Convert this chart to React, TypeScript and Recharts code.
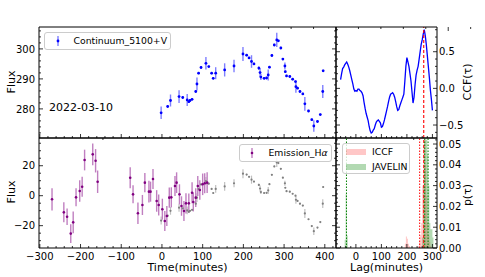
import React from 'react';
import { ComposedChart, Scatter, ErrorBar, XAxis, YAxis, Line, Area, ReferenceLine } from 'recharts';

const FONT = '"DejaVu Sans", Verdana, sans-serif';

// ---------- continuum (top-left) ----------
const contTime = [-2, 14, 21, 42, 51, 62, 66, 69, 74, 83, 86, 90, 96, 108, 115, 122, 126, 132, 154, 177, 199, 208, 214, 220, 226, 238, 241, 243, 251, 257, 261, 264, 270, 276, 282, 286, 292, 297, 302, 303, 306, 314, 321, 328, 329, 333, 339, 346, 351, 360, 368, 373, 382, 389, 395, 396];
const contFlux = [278.7, 280.8, 282.8, 284.1, 283.8, 283.0, 282.4, 282.8, 283.2, 285.8, 288.3, 291.9, 293.8, 295.2, 294.1, 291.9, 290.2, 291.9, 293.0, 294.3, 298.3, 297.9, 297.0, 295.8, 295.0, 293.6, 292.1, 290.6, 290.2, 290.3, 291.3, 293.9, 297.8, 301.3, 303.0, 302.7, 300.3, 296.6, 294.3, 292.4, 291.0, 290.8, 289.9, 289.1, 287.4, 286.9, 285.8, 285.0, 281.7, 279.3, 276.4, 274.3, 275.8, 278.1, 285.8, 292.7];
const contErr = [2.1, 0.4, 2.0, 2.1, 0.4, 2.0, 0.4, 0.4, 0.4, 0.4, 2.2, 0.4, 0.4, 2.1, 0.4, 0.4, 0.4, 2.0, 2.2, 2.1, 2.3, 0.4, 0.4, 2.1, 0.4, 0.6, 1.5, 1.0, 0.4, 0.4, 1.8, 0.4, 0.4, 0.4, 2.4, 0.4, 0.4, 0.4, 1.2, 0.4, 0.4, 0.4, 0.4, 0.4, 2.0, 0.4, 0.4, 0.4, 2.3, 0.4, 0.4, 1.9, 0.4, 0.4, 2.2, 0.4];

// ---------- scaled continuum (grey, bottom-left) ----------
const greyFlux = [-16.6, -13.3, -10.1, -8.0, -8.5, -9.8, -10.7, -10.1, -9.4, -5.3, -1.3, 4.5, 7.5, 9.8, 8.0, 4.5, 1.8, 4.5, 6.2, 8.3, 14.7, 14.1, 12.6, 10.7, 9.4, 7.2, 4.8, 2.4, 1.8, 1.9, 3.5, 7.7, 13.9, 19.5, 22.2, 21.8, 17.9, 12.0, 8.3, 5.3, 3.0, 2.7, 1.3, 0.0, -2.7, -3.5, -5.3, -6.6, -11.8, -15.7, -20.3, -23.7, -21.3, -17.6, -5.3, 5.8];
const greyErr = [2.7, 0.5, 2.6, 2.7, 0.5, 2.6, 0.5, 0.5, 0.5, 0.5, 2.9, 0.5, 0.5, 2.7, 0.5, 0.5, 0.5, 2.6, 2.9, 2.7, 3.0, 0.5, 0.5, 2.7, 0.5, 0.8, 2.0, 1.3, 0.5, 0.5, 2.3, 0.5, 0.5, 0.5, 3.1, 0.5, 0.5, 0.5, 1.6, 0.5, 0.5, 0.5, 0.5, 0.5, 2.6, 0.5, 0.5, 0.5, 3.0, 0.5, 0.5, 2.5, 0.5, 0.5, 2.9, 0.5];

// ---------- H-alpha emission (bottom-left) ----------
const haTime = [-270, -241, -233, -224, -218, -211, -202, -196, -190, -170, -163, -158, -78, -71, -59, -48, -42, -32, -28, -22, -13, -8, 1, 7, 12, 18, 23, 32, 36, 43, 48, 54, 59, 66, 74, 77, 83, 88, 93, 100, 105, 111];
const haFlux = [-2.4, -11.1, -14.0, -25.3, -17.8, -1.1, 3.1, 6.0, 23.8, 27.6, 23.3, 9.3, 12.0, 0.9, -11.7, -6.2, 8.7, 2.7, 2.7, 11.1, -3.5, -6.2, -9.0, -16.9, -13.5, -1.3, -1.1, 6.5, 8.7, 0.9, -6.9, -10.2, -5.1, -5.1, 2.0, -4.2, -1.3, 6.5, 3.8, 7.6, 8.3, 8.7];
const haErr = [7.4, 6.7, 5.5, 6.3, 7.2, 6.0, 7.2, 6.7, 6.9, 7.2, 7.8, 7.5, 7.0, 6.0, 7.2, 6.7, 6.4, 7.2, 6.7, 6.7, 7.2, 7.0, 7.0, 6.7, 6.7, 6.7, 6.7, 6.7, 6.9, 6.7, 6.5, 6.7, 6.7, 6.5, 7.0, 6.3, 6.2, 6.7, 6.5, 7.2, 6.7, 6.9];

// ---------- CCF (top-right) ----------
const ccfLag = [-60, -56, -52, -48, -44, -40, -36, -32, -28, -24, -20, -16, -12, -8, -4, 0, 4, 8, 12, 16, 20, 24, 28, 32, 36, 40, 44, 48, 52, 56, 60, 64, 68, 72, 76, 80, 84, 88, 92, 96, 100, 104, 108, 112, 116, 120, 124, 128, 132, 136, 140, 144, 148, 152, 156, 160, 164, 168, 172, 176, 180, 184, 188, 192, 196, 200, 204, 208, 212, 216, 220, 224, 228, 232, 236, 240, 244, 248, 252, 256, 260, 264, 268, 272, 276, 280, 284, 288, 292, 296, 300];
const ccfVal = [0.12, 0.2, 0.27, 0.29, 0.32, 0.34, 0.36, 0.33, 0.29, 0.24, 0.18, 0.12, 0.06, -0.01, -0.04, -0.03, -0.04, -0.01, -0.01, -0.03, -0.04, -0.06, -0.1, -0.19, -0.27, -0.34, -0.39, -0.44, -0.52, -0.58, -0.61, -0.6, -0.57, -0.55, -0.5, -0.46, -0.44, -0.43, -0.45, -0.47, -0.53, -0.52, -0.48, -0.43, -0.37, -0.31, -0.25, -0.18, -0.12, -0.08, -0.07, -0.06, -0.08, -0.12, -0.18, -0.25, -0.3, -0.29, -0.24, -0.2, -0.16, -0.12, -0.08, 0.1, 0.3, 0.42, 0.36, 0.3, 0.2, 0.1, -0.05, -0.2, -0.12, 0.05, 0.18, 0.25, 0.3, 0.4, 0.5, 0.6, 0.66, 0.74, 0.8, 0.72, 0.6, 0.45, 0.3, 0.15, -0.02, -0.15, -0.3];

// ---------- lag distributions (bottom-right) ----------
const histLag = [-48, -44, -40, -36, -32, 192, 196, 200, 204, 208, 212, 244, 248, 252, 256, 260, 264, 268, 272, 276, 280, 284, 288, 292, 296, 300, 304];
const iccfP = [0, 0, 0, 0, 0, 0.002, 0.0055, 0.0045, 0.002, 0.001, 0, 0.001, 0.003, 0.006, 0.012, 0.03, 0.05, 0.052, 0.04, 0.025, 0.012, 0.006, 0.003, 0.001, 0, 0, 0];
const javP = [0, 0.004, 0.026, 0.006, 0, 0, 0, 0, 0, 0, 0, 0, 0, 0, 0, 0.005, 0.03, 0.052, 0.052, 0.052, 0.045, 0.03, 0.012, 0.009, 0.009, 0.005, 0];

// ---------- ticks ----------
const leftXMajor = [-300, -200, -100, 0, 100, 200, 300, 400];
const contYMajor = [280, 290, 300];
const haYMajor = [-20, 0, 20];
const lagXMajor = [0, 100, 200, 300];
const ccfYMajor = [-0.5, 0, 0.5];
const pYMajor = [0, 0.01, 0.02, 0.03, 0.04, 0.05];

const range = (a: number, b: number, s: number) => {
  const out: number[] = [];
  for (let i = 0; a + i * s <= b + 1e-9; i++) out.push(+(a + i * s).toFixed(6));
  return out;
};
const leftXTicks = range(-300, 420, 20);
const contYTicks = range(272, 306, 2);
const haYTicks = range(-30, 35, 5);
const lagXTicks = range(-60, 300, 20);
const ccfYTicks = range(-0.6, 0.8, 0.1);
const pYTicks = range(0, 0.052, 0.002);

const contData = contTime.map((t, i) => ({ t, f: contFlux[i], e: contErr[i] }));
const greyData = contTime.map((t, i) => ({ t, f: greyFlux[i], e: greyErr[i] }));
const haData = haTime.map((t, i) => ({ t, f: haFlux[i], e: haErr[i] }));
const ccfData = ccfLag.map((lag, i) => ({ lag, ccf: ccfVal[i] }));
const histData = histLag.map((lag, i) => ({ lag, iccf: iccfP[i], jav: javP[i] }));

const minus = (s: string) => s.replace('-', '\u2212');
const fmtInt = (v: number) => minus(String(Math.round(v)));
const fmt1 = (v: number) => minus((Math.abs(v) < 1e-9 ? 0 : v).toFixed(1));
const fmt2 = (v: number) => v.toFixed(2);

type Side = 'bottom' | 'top' | 'left' | 'right';

function makeTick(side: Side, majors: number[], fmt?: (v: number) => string) {
  return (props: any) => {
    const { x, y, payload } = props;
    const v = Number(payload.value);
    const major = majors.some((m) => Math.abs(m - v) < 1e-9);
    const len = major ? 4 : 2;
    let x2 = x;
    let y2 = y;
    if (side === 'bottom') y2 = y - len;
    else if (side === 'top') y2 = y + len;
    else if (side === 'left') x2 = x + len;
    else x2 = x - len;
    let label: any = null;
    if (fmt && major) {
      const txt = fmt(v);
      const style = { fontFamily: FONT, fontSize: 10, fill: '#000' };
      if (side === 'bottom') label = <text x={x} y={y + 12} textAnchor="middle" style={style}>{txt}</text>;
      else if (side === 'left') label = <text x={x - 4} y={y + 3.6} textAnchor="end" style={style}>{txt}</text>;
      else if (side === 'right') label = <text x={x + 2} y={y + 3.6} textAnchor="start" style={style}>{txt}</text>;
    }
    return (
      <g>
        <line x1={x} y1={y} x2={x2} y2={y2} stroke="#000" strokeWidth={0.8} />
        {label}
      </g>
    );
  };
}

function sideAxis(side: Side, domain: [number, number], ticks: number[], majors: number[], labeled: boolean, size: number, fmt?: (v: number) => string, dataKey?: string) {
  const isX = side === 'bottom' || side === 'top';
  const common: any = {
    type: 'number',
    domain,
    allowDataOverflow: true,
    ticks,
    interval: 0,
    tickSize: 0,
    tickMargin: 0,
    tickLine: false,
    axisLine: { stroke: '#000', strokeWidth: 1 },
    orientation: side,
    mirror: !labeled,
    tick: makeTick(side, majors, labeled ? fmt : undefined),
    dataKey,
  };
  if (isX) return <XAxis key={side} xAxisId={side} height={labeled ? size : 1} {...common} />;
  return <YAxis key={side} yAxisId={side} width={labeled ? size : 1} {...common} />;
}

const dot = (color: string, r: number) => (p: any) => <circle cx={p.cx} cy={p.cy} r={r} fill={color} />;

const LEFT_X: [number, number] = [-302, 427.5];
const CONT_Y: [number, number] = [270.3, 307.3];
const HA_Y: [number, number] = [-34.9, 38.5];
const LAG_X: [number, number] = [-78, 318];
const CCF_Y: [number, number] = [-0.677, 0.837];
const P_Y: [number, number] = [0, 0.0529];

const abs: React.CSSProperties = { position: 'absolute', left: 0, top: 0 };

export default function App() {
  return (
    <div style={{ position: 'absolute', left: 0, top: 0, width: 485, height: 277, background: '#fff', fontFamily: FONT, overflow: 'hidden' }}>
      {/* top-left: continuum */}
      <div style={abs}>
        <ComposedChart width={485} height={277} margin={{ top: 27, right: 149, bottom: 139, left: 9 }}>
          {sideAxis('bottom', LEFT_X, leftXTicks, leftXMajor, false, 1, undefined, 't')}
          {sideAxis('top', LEFT_X, leftXTicks, leftXMajor, false, 1)}
          {sideAxis('left', CONT_Y, contYTicks, contYMajor, true, 30, fmtInt, 'f')}
          {sideAxis('right', CONT_Y, contYTicks, contYMajor, false, 1)}
          <Scatter data={contData} xAxisId="bottom" yAxisId="left" shape={dot('#0000ff', 1.4)} isAnimationActive={false}>
            <ErrorBar dataKey="e" direction="y" width={0} stroke="#7f7fff" strokeWidth={1.4} />
          </Scatter>
        </ComposedChart>
      </div>

      {/* bottom-left: H-alpha */}
      <div style={abs}>
        <ComposedChart width={485} height={277} margin={{ top: 138, right: 149, bottom: 9, left: 9 }}>
          {sideAxis('bottom', LEFT_X, leftXTicks, leftXMajor, true, 20, fmtInt, 't')}
          {sideAxis('top', LEFT_X, leftXTicks, leftXMajor, false, 1)}
          {sideAxis('left', HA_Y, haYTicks, haYMajor, true, 30, fmtInt, 'f')}
          {sideAxis('right', HA_Y, haYTicks, haYMajor, false, 1)}
          <Scatter data={greyData} xAxisId="bottom" yAxisId="left" shape={dot('#808080', 1.1)} isAnimationActive={false}>
            <ErrorBar dataKey="e" direction="y" width={0} stroke="#c0c0c0" strokeWidth={1.2} />
          </Scatter>
          <Scatter data={haData} xAxisId="bottom" yAxisId="left" shape={dot('#800080', 1.3)} isAnimationActive={false}>
            <ErrorBar dataKey="e" direction="y" width={0} stroke="#c07fc0" strokeWidth={1.4} />
          </Scatter>
        </ComposedChart>
      </div>

      {/* top-right: CCF */}
      <div style={abs}>
        <ComposedChart width={485} height={277} data={ccfData} margin={{ top: 27, right: 8, bottom: 139, left: 336 }}>
          {sideAxis('bottom', LAG_X, lagXTicks, lagXMajor, false, 1, undefined, 'lag')}
          {sideAxis('top', LAG_X, lagXTicks, lagXMajor, false, 1)}
          {sideAxis('left', CCF_Y, ccfYTicks, ccfYMajor, false, 1)}
          {sideAxis('right', CCF_Y, ccfYTicks, ccfYMajor, true, 40, fmt1)}
          <Line xAxisId="bottom" yAxisId="right" dataKey="ccf" type="linear" stroke="#0000ff" strokeWidth={1.3} dot={false} isAnimationActive={false} />
          <ReferenceLine xAxisId="bottom" yAxisId="right" x={266} stroke="#ff0000" strokeDasharray="3 2" strokeWidth={1.1} />
        </ComposedChart>
      </div>

      {/* bottom-right: lag distributions */}
      <div style={abs}>
        <ComposedChart width={485} height={277} data={histData} margin={{ top: 138, right: 8, bottom: 9, left: 336 }}>
          {sideAxis('bottom', LAG_X, lagXTicks, lagXMajor, true, 20, fmtInt, 'lag')}
          {sideAxis('top', LAG_X, lagXTicks, lagXMajor, false, 1)}
          {sideAxis('left', P_Y, pYTicks, pYMajor, false, 1)}
          {sideAxis('right', P_Y, pYTicks, pYMajor, true, 40, fmt2)}
          <Area xAxisId="bottom" yAxisId="right" dataKey="iccf" type="stepAfter" stroke="none" fill="#ff0000" fillOpacity={0.22} isAnimationActive={false} />
          <Area xAxisId="bottom" yAxisId="right" dataKey="jav" type="stepAfter" stroke="none" fill="#008000" fillOpacity={0.3} isAnimationActive={false} />
          <ReferenceLine xAxisId="bottom" yAxisId="right" x={250} stroke="#ff0000" strokeDasharray="1.5 1.5" strokeWidth={1} />
          <ReferenceLine xAxisId="bottom" yAxisId="right" x={266} stroke="#ff0000" strokeDasharray="3 2" strokeWidth={1} />
          <ReferenceLine xAxisId="bottom" yAxisId="right" x={-37} stroke="#008000" strokeDasharray="1.5 1.5" strokeWidth={1} />
          <ReferenceLine xAxisId="bottom" yAxisId="right" x={270} stroke="#008000" strokeDasharray="1.5 1.5" strokeWidth={1} />
          <ReferenceLine xAxisId="bottom" yAxisId="right" x={283} stroke="#008000" strokeDasharray="1.5 1.5" strokeWidth={1} />
        </ComposedChart>
      </div>

      {/* text labels */}
      <svg width={485} height={277} style={{ ...abs, pointerEvents: 'none' }}>
        <g style={{ fontFamily: FONT, fontSize: 11, fill: '#000' }}>
          <text x={15} y={82} textAnchor="middle" transform="rotate(-90 15 82)">Flux</text>
          <text x={15} y={192} textAnchor="middle" transform="rotate(-90 15 192)">Flux</text>
          <text x={49} y={111}>2022-03-10</text>
          <text x={187.5} y={271} textAnchor="middle">Time(minutes)</text>
          <text x={386.5} y={271} textAnchor="middle">Lag(minutes)</text>
          <text x={470.5} y={82} textAnchor="middle" transform="rotate(-90 470.5 82)">CCF(τ)</text>
          <text x={470.5} y={195} textAnchor="middle" transform="rotate(-90 470.5 195)">p(τ)</text>
        </g>
      </svg>

      {/* legends */}
      <div style={{ position: 'absolute', left: 43.5, top: 31.5, width: 127, height: 18, border: '1px solid #cccccc', borderRadius: 3, background: 'rgba(255,255,255,0.8)', boxSizing: 'border-box' }}>
        <svg width={20} height={16} style={{ position: 'absolute', left: 3, top: 0 }}>
          <line x1={10} y1={3} x2={10} y2={13} stroke="#7f7fff" strokeWidth={1.4} />
          <circle cx={10} cy={8} r={1.4} fill="#0000ff" />
        </svg>
        <div style={{ position: 'absolute', left: 29, top: 2, fontSize: 9.3, lineHeight: '12px', whiteSpace: 'nowrap' }}>Continuum_5100+V</div>
      </div>

      <div style={{ position: 'absolute', left: 239, top: 144, width: 93, height: 18, border: '1px solid #cccccc', borderRadius: 3, background: 'rgba(255,255,255,0.8)', boxSizing: 'border-box' }}>
        <svg width={20} height={16} style={{ position: 'absolute', left: 1.5, top: 0 }}>
          <line x1={10} y1={3} x2={10} y2={13} stroke="#c07fc0" strokeWidth={1.4} />
          <circle cx={10} cy={8} r={1.3} fill="#800080" />
        </svg>
        <div style={{ position: 'absolute', left: 28.5, top: 2, fontSize: 9.3, lineHeight: '12px', whiteSpace: 'nowrap' }}>
          Emission_H<i>α</i>
        </div>
      </div>

      <div style={{ position: 'absolute', left: 342, top: 143, width: 68, height: 31, border: '1px solid #cccccc', borderRadius: 3, background: 'rgba(255,255,255,0.8)', boxSizing: 'border-box' }}>
        <div style={{ position: 'absolute', left: 3, top: 4.5, width: 20, height: 6.5, background: 'rgba(255,0,0,0.22)' }} />
        <div style={{ position: 'absolute', left: 29, top: 1.5, fontSize: 9.3, lineHeight: '12px', whiteSpace: 'nowrap' }}>ICCF</div>
        <div style={{ position: 'absolute', left: 3, top: 19.5, width: 20, height: 6.5, background: 'rgba(0,128,0,0.3)' }} />
        <div style={{ position: 'absolute', left: 29, top: 16.5, fontSize: 9.3, lineHeight: '12px', whiteSpace: 'nowrap' }}>JAVELIN</div>
      </div>
    </div>
  );
}
